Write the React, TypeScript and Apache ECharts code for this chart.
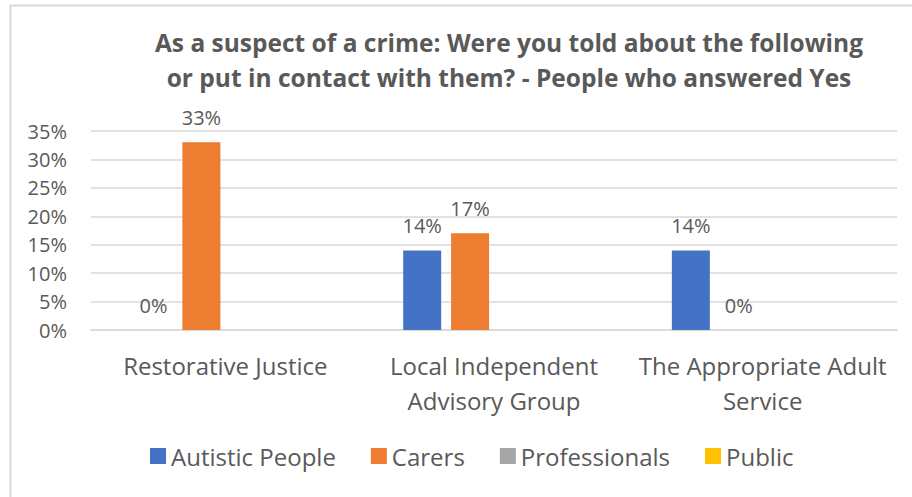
import React, { useEffect, useRef } from "react";
import * as echarts from "echarts";

const titleText = "As a suspect of a crime: Were you told about the following\nor put in contact with them? - People who answered Yes";
const categories = ["Restorative Justice", "Local Independent\nAdvisory Group", "The Appropriate Adult\nService"];
const seriesNames = ["Autistic People", "Carers", "Professionals", "Public"];
const autisticPeople: (number | null)[] = [0, 14, 14];
const carers: (number | null)[] = [33, 17, 0];
const professionals: (number | null)[] = [null, null, null];
const publicVals: (number | null)[] = [null, null, null];
const colors = ["#4472C4", "#ED7D31", "#A5A5A5", "#FFC000"];
const yTicks = { min: 0, max: 35, interval: 5 };

const FONT = "Open Sans";
const TEXT = "#595959";

export default function App() {
  const ref = useRef<HTMLDivElement>(null);
  useEffect(() => {
    if (!ref.current) return;
    const chart = echarts.init(ref.current, undefined, { renderer: "svg" });
    const allData = [autisticPeople, carers, professionals, publicVals];
    chart.setOption({
      animation: false,
      backgroundColor: "#ffffff",
      title: {
        text: titleText,
        left: 504,
        top: 20,
        textAlign: "center",
        textStyle: {
          fontFamily: FONT,
          fontWeight: "bold",
          fontSize: 24.5,
          lineHeight: 35,
          color: TEXT,
        },
      },
      graphic: [
        {
          type: "polyline",
          shape: { points: [[10.5, 600], [10.5, 5.5], [912, 5.5]] },
          style: { stroke: "#D9D9D9", lineWidth: 2, fill: "none" },
          silent: true,
        },
      ],
      legend: {
        data: seriesNames,
        bottom: 24,
        left: 145,
        icon: "rect",
        itemWidth: 16,
        itemHeight: 16,
        itemGap: 35,
        textStyle: { fontFamily: FONT, fontSize: 24, color: TEXT },
      },
      grid: { left: 91, right: 15, top: 131, bottom: 167 },
      xAxis: {
        type: "category",
        data: categories,
        axisLine: { lineStyle: { color: "#D9D9D9", width: 1.5 } },
        axisTick: { show: false },
        axisLabel: {
          fontFamily: FONT,
          fontSize: 24,
          lineHeight: 35,
          color: TEXT,
          margin: 18,
          interval: 0,
        },
      },
      yAxis: {
        type: "value",
        min: yTicks.min,
        max: yTicks.max,
        interval: yTicks.interval,
        axisLine: { show: false },
        axisTick: { show: false },
        splitLine: { lineStyle: { color: "#D9D9D9", width: 1.5 } },
        axisLabel: {
          fontFamily: FONT,
          fontSize: 20,
          color: TEXT,
          margin: 24,
          formatter: (v: number) => v + "%",
        },
      },
      series: seriesNames.map((name, i) => ({
        name,
        type: "bar",
        data: allData[i],
        barWidth: 38,
        barGap: "26%",
        barCategoryGap: "32%",
        itemStyle: { color: colors[i] },
        label: {
          show: true,
          position: "top",
          distance: 15,
          fontFamily: FONT,
          fontSize: 20,
          color: TEXT,
          formatter: (p: any) => (p.value == null ? "" : p.value + "%"),
        },
      })),
    });
    return () => chart.dispose();
  }, []);
  return (
    <div
      ref={ref}
      style={{ position: "absolute", left: 0, top: 0, width: 912, height: 497 }}
    />
  );
}
